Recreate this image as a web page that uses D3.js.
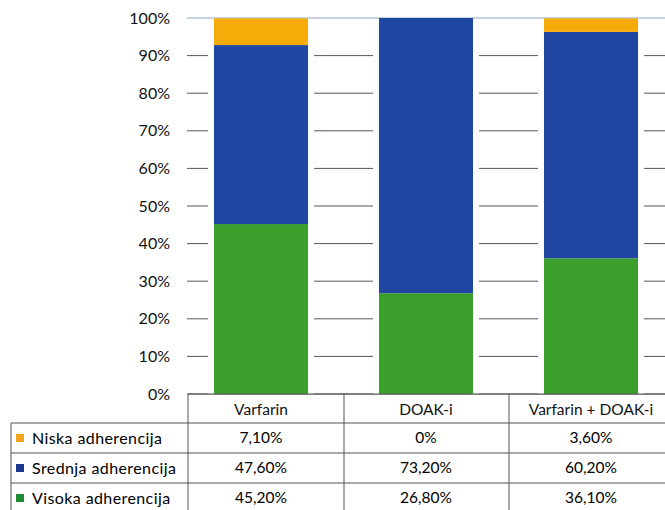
<!DOCTYPE html>
<html><head><meta charset="utf-8">
<script src="https://cdn.jsdelivr.net/npm/d3@7/dist/d3.min.js"></script>
<style>body{margin:0;background:#fff}svg{display:block}</style>
</head><body>
<script>
const categories = ["Varfarin", "DOAK-i", "Varfarin + DOAK-i"];
const seriesNames = ["Niska adherencija", "Srednja adherencija", "Visoka adherencija"];
const niska = [7.1, 0, 3.6];
const srednja = [47.6, 73.2, 60.2];
const visoka = [45.2, 26.8, 36.1];
const tableLabels = [["7,10%", "0%", "3,60%"], ["47,60%", "73,20%", "60,20%"], ["45,20%", "26,80%", "36,10%"]];
const yTicks = [0, 10, 20, 30, 40, 50, 60, 70, 80, 90, 100];

const W = 665, H = 510;
const colors = {"Niska adherencija": "#f7ab08", "Srednja adherencija": "#1f47a1", "Visoka adherencija": "#3b9f2c"};
const legendColors = {"Niska adherencija": "#f2a41c", "Srednja adherencija": "#1b3a8e", "Visoka adherencija": "#1f8c34"};
const font = "Lato, 'Open Sans', sans-serif";

const svg = d3.select("body").append("svg").attr("width", W).attr("height", H);

const x = d3.scaleBand().domain(categories).range([178.5, 673.5]);
const barW = x.bandwidth() * 0.57;
const y = d3.scaleLinear().domain([0, 100]).range([394, 18]);

// gridlines
svg.append("g").selectAll("line").data(yTicks).join("line")
  .attr("x1", 187).attr("x2", W)
  .attr("y1", d => y(d)).attr("y2", d => y(d))
  .attr("stroke", d => d === 100 ? "#8fa6c8" : "#555").attr("stroke-width", 1);

const rows = categories.map((c, i) => ({cat: c, "Visoka adherencija": visoka[i], "Srednja adherencija": srednja[i], "Niska adherencija": niska[i]}));
const stack = d3.stack().keys(["Visoka adherencija", "Srednja adherencija", "Niska adherencija"]);
const stacked = stack(rows);

// white gaps around bars
svg.append("g").selectAll("rect").data(categories).join("rect")
  .attr("x", d => x(d) + (x.bandwidth() - barW) / 2 - 6)
  .attr("width", barW + 12)
  .attr("y", y(100) + 3).attr("height", y(0) - y(100) - 3)
  .attr("fill", "#fff");

svg.append("g").selectAll("g").data(stacked).join("g")
  .attr("fill", d => colors[d.key])
  .selectAll("rect").data(d => d).join("rect")
  .attr("x", d => x(d.data.cat) + (x.bandwidth() - barW) / 2)
  .attr("width", barW)
  .attr("y", d => y(d[1]))
  .attr("height", d => y(d[0]) - y(d[1]));

// y axis labels
svg.append("g").selectAll("text").data(yTicks).join("text")
  .attr("x", 170).attr("y", d => y(d)).attr("dy", "0.35em")
  .attr("text-anchor", "end").attr("font-family", font).attr("font-size", 16)
  .attr("fill", "#111").text(d => d + "%");

// table
const colEdges = [188, 344, 509, 668];
const rowEdges = [394, 423, 453, 483, 513];
const tbl = svg.append("g").attr("stroke", "#555").attr("stroke-width", 1).attr("fill", "none");
tbl.append("line").attr("x1", colEdges[0]).attr("x2", W).attr("y1", rowEdges[0]).attr("y2", rowEdges[0]);
tbl.selectAll("line.h").data(rowEdges.slice(1, 4)).join("line").attr("class", "h")
  .attr("x1", 11).attr("x2", W).attr("y1", d => d).attr("y2", d => d);
tbl.selectAll("line.v").data(colEdges.slice(0, 3)).join("line").attr("class", "v")
  .attr("x1", d => d).attr("x2", d => d).attr("y1", rowEdges[0]).attr("y2", H);
tbl.append("line").attr("x1", 11).attr("x2", 11).attr("y1", rowEdges[1]).attr("y2", H);

// header text
svg.append("g").selectAll("text").data(categories).join("text")
  .attr("x", d => x(d) + x.bandwidth() / 2).attr("y", (rowEdges[0] + rowEdges[1]) / 2 + 1)
  .attr("dy", "0.35em").attr("text-anchor", "middle")
  .attr("font-family", font).attr("font-size", 15.5).attr("fill", "#111").text(d => d);

// row labels
const rl = svg.append("g").selectAll("g").data(seriesNames).join("g")
  .attr("transform", (d, i) => `translate(0,${(rowEdges[i + 1] + rowEdges[i + 2]) / 2})`);
rl.append("rect").attr("x", 16).attr("y", -4).attr("width", 8).attr("height", 8)
  .attr("fill", d => legendColors[d]);
rl.append("text").attr("x", 32).attr("dy", "0.35em")
  .attr("font-family", font).attr("font-size", 16).attr("letter-spacing", 0.4).attr("fill", "#000")
  .text(d => d);

// values
seriesNames.forEach((s, i) => {
  svg.append("g").selectAll("text").data(categories).join("text")
    .attr("x", d => x(d) + x.bandwidth() / 2)
    .attr("y", (rowEdges[i + 1] + rowEdges[i + 2]) / 2)
    .attr("dy", "0.35em").attr("text-anchor", "middle")
    .attr("font-family", font).attr("font-size", 15.5).attr("fill", "#000")
    .text((d, j) => tableLabels[i][j]);
});
</script>
</body></html>
